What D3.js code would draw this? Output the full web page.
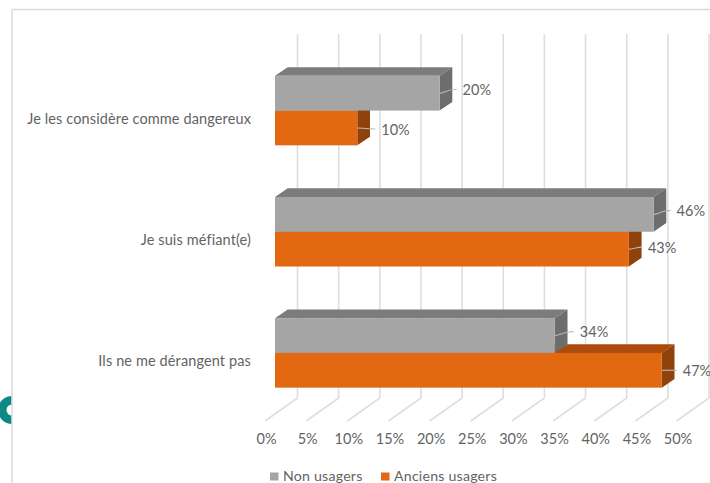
<!DOCTYPE html>
<html>
<head>
<meta charset="utf-8">
<script src="https://d3js.org/d3.v7.min.js"></script>
<style>
    html, body { margin: 0; padding: 0; background: #fff; }
    svg { display: block; }
    text { font-family: Lato, "Open Sans", sans-serif; fill: #636363; }
</style>
</head>
<body>
<div id="chart"></div>
<script>
const categories = ['Je les considère comme dangereux', 'Je suis méfiant(e)', 'Ils ne me dérangent pas'];
const seriesNames = ['Non usagers', 'Anciens usagers'];
const nonUsagers = [20, 46, 34];
const anciensUsagers = [10, 43, 47];
const tickValues = [0, 5, 10, 15, 20, 25, 30, 35, 40, 45, 50];

// label nudges, the leader lines in the original are hand placed
const labelNudge = [
    [[23, -4], [24, 1]],
    [[23, -4], [19, -2]],
    [[25, -4], [21, 0]]
];

const width = 710, height = 483;
const barLeft = 275, backLeft = 297.5, floorLeft = 265;
const backTop = 34, backBottom = 398, floorBottom = 421;
const depthX = 12.7, depthY = 8.7;

const colors = [
    { front: '#a5a5a5', top: '#7c7c7c', side: '#6d6d6d' },
    { front: '#e26912', top: '#ab4b0c', side: '#8f420a' }
];

const x = d3.scaleLinear().domain([0, 50]).range([0, 411.5]);
const y = d3.scaleBand().domain(categories).range([50, 413.5]);
const inner = d3.scaleBand().domain(seriesNames).range([0, 69.5]);
const barCenter = y.bandwidth() / 2;

const svg = d3.select('#chart').append('svg')
    .attr('width', width)
    .attr('height', height);

// teal ring cut by the frame
svg.append('circle')
    .attr('cx', 12).attr('cy', 410).attr('r', 9.75)
    .attr('fill', 'none')
    .attr('stroke', '#0b8a83')
    .attr('stroke-width', 8.5);
svg.append('rect').attr('x', 12).attr('y', 380).attr('width', 40).attr('height', 60).attr('fill', '#fff');

// frame
svg.append('path')
    .attr('d', `M${width},9.5H12V${height}`)
    .attr('fill', 'none')
    .attr('stroke', '#dcdcdc')
    .attr('stroke-width', 1.6);

// gridlines, back wall plus floor
svg.append('g').selectAll('path')
    .data(tickValues)
    .enter()
    .append('path')
    .attr('d', d => `M${backLeft + x(d)},${backTop}V${backBottom}L${floorLeft + x(d)},${floorBottom}`)
    .attr('fill', 'none')
    .attr('stroke', '#dedede')
    .attr('stroke-width', 1.6);

// tick labels
const axis = d3.axisBottom(x)
    .tickValues(tickValues)
    .tickSize(0)
    .tickPadding(0)
    .tickFormat(d => d + '%');

svg.append('g')
    .attr('transform', `translate(${floorLeft + 1},434)`)
    .call(axis)
    .call(g => g.select('.domain').remove())
    .selectAll('text')
    .attr('font-size', 14.5)
    .style('font-family', 'Lato, "Open Sans", sans-serif');

// category labels
svg.append('g').selectAll('text')
    .data(categories)
    .enter()
    .append('text')
    .attr('x', 251)
    .attr('y', d => y(d) + barCenter + 9.5)
    .attr('text-anchor', 'end')
    .attr('dominant-baseline', 'middle')
    .attr('font-size', 14.5)
    .attr('letter-spacing', 0.12)
    .text(d => d);

// 3d bars, orange first so the grey one sits over its top face
function drawBar(parent, category, value, seriesIndex) {
    const c = colors[seriesIndex];
    const x0 = barLeft;
    const x1 = barLeft + x(value);
    const yTop = y(category) + barCenter - 34.75 + inner(seriesNames[seriesIndex]);
    const yBottom = yTop + inner.bandwidth();
    const g = parent.append('g');

    g.append('polygon')
        .attr('points', [[x0, yTop], [x0 + depthX, yTop - depthY], [x1 + depthX, yTop - depthY], [x1, yTop]].join(' '))
        .attr('fill', c.top);
    g.append('polygon')
        .attr('points', [[x1, yTop], [x1 + depthX, yTop - depthY], [x1 + depthX, yBottom - depthY], [x1, yBottom]].join(' '))
        .attr('fill', c.side);
    g.append('rect')
        .attr('x', x0)
        .attr('y', yTop)
        .attr('width', x1 - x0)
        .attr('height', yBottom - yTop)
        .attr('fill', c.front);
}

function drawLabel(parent, categoryIndex, value, seriesIndex) {
    const x1 = barLeft + x(value);
    const yMid = y(categories[categoryIndex]) + barCenter - 34.75
        + inner(seriesNames[seriesIndex]) + inner.bandwidth() / 2;
    const [dx, dy] = labelNudge[categoryIndex][seriesIndex];

    parent.append('path')
        .attr('d', `M${x1},${yMid}C${x1 + 5},${yMid} ${x1 + 7},${yMid + dy} ${x1 + dx - 6},${yMid + dy}`)
        .attr('fill', 'none')
        .attr('stroke', '#b8b8b8')
        .attr('stroke-width', 1.1);
    parent.append('text')
        .attr('x', x1 + dx)
        .attr('y', yMid + dy + 2)
        .attr('dominant-baseline', 'middle')
        .attr('font-size', 14.5)
        .text(value + '%');
}

const bars = svg.append('g');
categories.forEach((cat, i) => {
    drawBar(bars, cat, anciensUsagers[i], 1);
    drawBar(bars, cat, nonUsagers[i], 0);
});

const labels = svg.append('g');
categories.forEach((cat, i) => {
    drawLabel(labels, i, nonUsagers[i], 0);
    drawLabel(labels, i, anciensUsagers[i], 1);
});

// legend
const legendX = [270, 381];
const legend = svg.append('g').selectAll('g')
    .data(seriesNames)
    .enter()
    .append('g')
    .attr('transform', (d, i) => `translate(${legendX[i]},472.5)`);

legend.append('rect')
    .attr('width', 8.5)
    .attr('height', 8)
    .attr('fill', (d, i) => colors[i].front);

legend.append('text')
    .attr('x', 13)
    .attr('y', 8)
    .attr('font-size', 14.2)
    .attr('letter-spacing', 0.2)
    .text(d => d);
</script>
</body>
</html>
